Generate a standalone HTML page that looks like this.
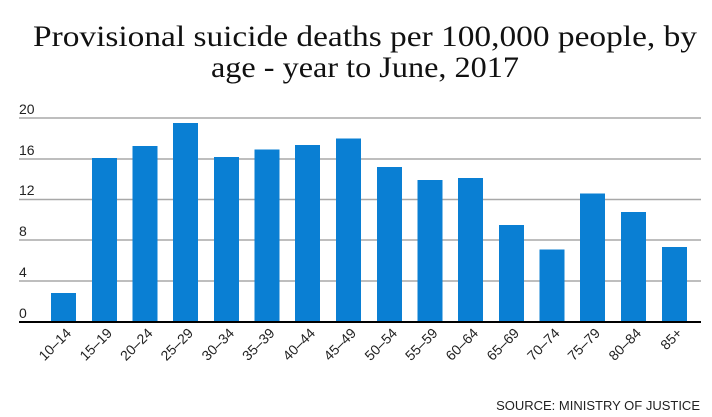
<!DOCTYPE html>
<html><head><meta charset="utf-8"><style>
body{margin:0;background:#fff}
svg{display:block}
</style></head><body>
<svg width="712" height="417" viewBox="0 0 712 417" xmlns="http://www.w3.org/2000/svg">
<rect width="712" height="417" fill="#fff"/>
<g font-family="Liberation Serif, serif" font-size="30" fill="#111" text-anchor="middle">
<text x="365" y="46" textLength="664" lengthAdjust="spacingAndGlyphs">Provisional suicide deaths per 100,000 people, by</text>
<text x="365" y="77" textLength="308" lengthAdjust="spacingAndGlyphs">age - year to June, 2017</text>
</g>
<g stroke="#a8a8a8" stroke-width="1.5">
<line x1="19" x2="701" y1="118" y2="118"/>
<line x1="19" x2="701" y1="159" y2="159"/>
<line x1="19" x2="701" y1="199.5" y2="199.5"/>
<line x1="19" x2="701" y1="240" y2="240"/>
<line x1="19" x2="701" y1="281" y2="281"/>
</g>
<g font-family="Liberation Sans, sans-serif" font-size="14" fill="#222">
<text x="19" y="114">20</text>
<text x="19" y="155">16</text>
<text x="19" y="195">12</text>
<text x="19" y="236">8</text>
<text x="19" y="277">4</text>
<text x="19" y="318">0</text>
</g>
<g fill="#0a7fd3">
<rect x="51" y="293" width="25" height="29"/>
<rect x="92" y="158" width="25" height="164"/>
<rect x="132.5" y="146" width="25" height="176"/>
<rect x="173" y="123" width="25" height="199"/>
<rect x="214" y="157" width="25" height="165"/>
<rect x="254.5" y="149.5" width="25" height="172.5"/>
<rect x="295" y="145" width="25" height="177"/>
<rect x="336" y="138.5" width="25" height="183.5"/>
<rect x="377" y="167" width="25" height="155"/>
<rect x="417.5" y="180" width="25" height="142"/>
<rect x="458" y="178" width="25" height="144"/>
<rect x="499" y="225" width="25" height="97"/>
<rect x="539.5" y="249.5" width="25" height="72.5"/>
<rect x="580" y="193.5" width="25" height="128.5"/>
<rect x="621" y="212" width="25" height="110"/>
<rect x="662" y="247" width="25" height="75"/>
</g>
<line x1="19" x2="701" y1="322" y2="322" stroke="#000" stroke-width="2"/>
<g font-family="Liberation Sans, sans-serif" font-size="14" fill="#222" text-anchor="end">
<text transform="translate(72,334) rotate(-45)">10–14</text>
<text transform="translate(113,334) rotate(-45)">15–19</text>
<text transform="translate(153.5,334) rotate(-45)">20–24</text>
<text transform="translate(194,334) rotate(-45)">25–29</text>
<text transform="translate(235,334) rotate(-45)">30–34</text>
<text transform="translate(275.5,334) rotate(-45)">35–39</text>
<text transform="translate(316,334) rotate(-45)">40–44</text>
<text transform="translate(357,334) rotate(-45)">45–49</text>
<text transform="translate(398,334) rotate(-45)">50–54</text>
<text transform="translate(438.5,334) rotate(-45)">55–59</text>
<text transform="translate(479,334) rotate(-45)">60–64</text>
<text transform="translate(520,334) rotate(-45)">65–69</text>
<text transform="translate(560.5,334) rotate(-45)">70–74</text>
<text transform="translate(601,334) rotate(-45)">75–79</text>
<text transform="translate(642,334) rotate(-45)">80–84</text>
<text transform="translate(683,334) rotate(-45)">85+</text>
</g>
<text x="700" y="410" text-anchor="end" font-family="Liberation Sans, sans-serif" font-size="13" fill="#222">SOURCE: MINISTRY OF JUSTICE</text>
</svg>
</body></html>
